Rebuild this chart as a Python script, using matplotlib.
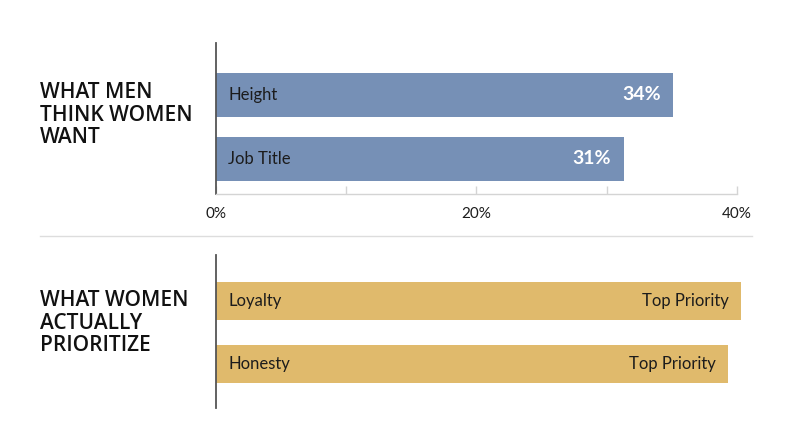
import matplotlib
matplotlib.use("Agg")
import matplotlib.pyplot as plt
from matplotlib.lines import Line2D

# data
men_cats = ["Height", "Job Title"]
men_vals = [35.1, 31.3]          # drawn bar lengths (%)
men_labels = ["34%", "31%"]
women_cats = ["Loyalty", "Honesty"]
women_vals = [40.3, 39.3]
women_labels = ["Top Priority", "Top Priority"]
xticks_major = [0, 20, 40]
xticks_minor = [10, 30]

W, H = 800, 447
blue = "#7690b6"
gold = "#e0ba6c"
dark = "#1c1c1c"

plt.rcParams["font.family"] = ["Lato", "DejaVu Sans"]

fig = plt.figure(figsize=(W / 100, H / 100), dpi=100)


def px_axes(x0, y_top, x1, y_bot):
    return fig.add_axes([x0 / W, 1 - y_bot / H, (x1 - x0) / W, (y_bot - y_top) / H])


# top panel
ax1 = px_axes(215.7, 43, 737, 194)
ax1.barh(range(len(men_cats)), men_vals, height=0.69, color=blue)
ax1.set_xlim(0, 40)
ax1.set_ylim(1.547, -0.8125)
for i, (c, v, lab) in enumerate(zip(men_cats, men_vals, men_labels)):
    ax1.text(0.95, i, c, va="center", ha="left", fontsize=12, color=dark)
    ax1.text(v - 0.95, i, lab, va="center", ha="right", fontsize=14,
             color="white", fontweight="bold")
for s in ["top", "right"]:
    ax1.spines[s].set_visible(False)
ax1.spines["left"].set_color("#555555")
ax1.spines["left"].set_linewidth(1.3)
ax1.spines["bottom"].set_color("#d4d4d4")
ax1.spines["bottom"].set_linewidth(1.0)
ax1.set_yticks([])
ax1.set_xticks(xticks_major)
ax1.set_xticklabels([f"{t}%" for t in xticks_major])
ax1.set_xticks(xticks_minor, minor=True)
ax1.tick_params(axis="x", which="both", direction="in", length=6, width=1,
                color="#d4d4d4", labelsize=11, labelcolor=dark, pad=9)

# bottom panel
ax2 = px_axes(215.7, 255, 737, 408)
ax2.barh(range(len(women_cats)), women_vals, height=0.6, color=gold, clip_on=False)
ax2.set_xlim(0, 40)
ax2.set_ylim(1.70, -0.73)
for i, (c, v, lab) in enumerate(zip(women_cats, women_vals, women_labels)):
    ax2.text(0.95, i, c, va="center", ha="left", fontsize=12, color=dark)
    ax2.text(v - 0.95, i, lab, va="center", ha="right", fontsize=12, color=dark)
for s in ["top", "right", "bottom"]:
    ax2.spines[s].set_visible(False)
ax2.spines["left"].set_color("#555555")
ax2.spines["left"].set_linewidth(1.3)
ax2.set_xticks([])
ax2.set_yticks([])

# separator
fig.add_artist(Line2D([40 / W, 752 / W], [1 - 236 / H, 1 - 236 / H],
                      color="#dddddd", linewidth=1))

# section titles
fig.text(40 / W, 1 - 82 / H, "WHAT MEN\nTHINK WOMEN\nWANT", ha="left", va="top",
         fontsize=15, fontweight="semibold", color="#111111", linespacing=1.1,
         family=["Open Sans", "DejaVu Sans"])
fig.text(40 / W, 1 - 290 / H, "WHAT WOMEN\nACTUALLY\nPRIORITIZE", ha="left", va="top",
         fontsize=15, fontweight="semibold", color="#111111", linespacing=1.1,
         family=["Open Sans", "DejaVu Sans"])

fig.savefig("out.png", dpi=100)
